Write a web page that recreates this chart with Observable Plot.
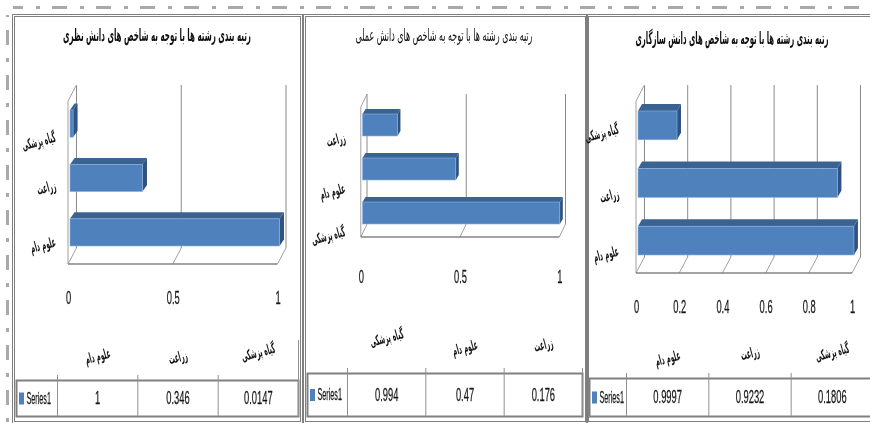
<!DOCTYPE html>
<html lang="fa">
<head>
<meta charset="utf-8">
<script src="https://cdn.jsdelivr.net/npm/d3@7"></script>
<script src="https://cdn.jsdelivr.net/npm/@observablehq/plot@0.6"></script>
<style>
html,body{margin:0;padding:0;background:#fff;width:870px;height:423px;overflow:hidden}
#page{position:relative;width:870px;height:423px;overflow:hidden;filter:blur(.4px)}
.strip{position:absolute}
.panel{position:absolute;top:14px;height:404px;border:3px double #7f7f7f;box-sizing:content-box}
.layer{position:absolute;top:0}
.layer svg{display:block;background:transparent;overflow:visible;max-width:none}
.title{position:absolute;white-space:nowrap;font-family:"DejaVu Sans";color:#111;direction:rtl}
</style>
</head>
<body>
<div id="page"></div>
<script>
// ---------- data ----------
const theoryTitle = "رتبه بندی رشته ها با توجه به شاخص های دانش نظری";
const theoryCategories = ["علوم دام", "زراعت", "گیاه پزشکی"];
const theoryValues = [1, 0.346, 0.0147];
const theoryLabels = ["1", "0.346", "0.0147"];
const theoryTicks = [0, 0.5, 1];

const practiceTitle = "رتبه بندی رشته ها با توجه به شاخص های دانش عملی";
const practiceCategories = ["گیاه پزشکی", "علوم دام", "زراعت"];
const practiceValues = [0.994, 0.47, 0.176];
const practiceLabels = ["0.994", "0.47", "0.176"];
const practiceTicks = [0, 0.5, 1];

const adaptTitle = "رتبه بندی رشته ها با توجه به شاخص های دانش سازگاری";
const adaptCategories = ["علوم دام", "زراعت", "گیاه پزشکی"];
const adaptValues = [0.9997, 0.9232, 0.1806];
const adaptLabels = ["0.9997", "0.9232", "0.1806"];
const adaptTicks = [0, 0.2, 0.4, 0.6, 0.8, 1];

const seriesName = "Series1";

// ---------- layout ----------
const FONT = '"Liberation Sans"';
const ARABIC = '"DejaVu Sans"';
const INK = "#161616";
const FRONT = "#4f81bd", TOP = "#3b6392", SIDE = "#2f5380", EDGE = "#8db3e2";
const GRID = "#8a8a8a", WALL = "#a0a0a0", FLOOR = "#858585";
const TILT = -15, SQUEEZE = 0.52, SQUEEZE_AR = 0.42, SQUEEZE_LEGEND = 0.45;

const panels = [
  {title: theoryTitle, cats: theoryCategories, vals: theoryValues, labels: theoryLabels, ticks: theoryTicks,
   box: [12, 300], titleAt: [157, 35], titleW: 188, titleWeight: 700,
   x: [70, 279.5], y: [110, 246], wallTop: 85, wallBackY: 248, floorY: 264,
   front: -2, back: 6.5, depth: [4.5, 6.5], catPad: 15, catDy: [9, 7, 13], headDy: [-42, -41, -46], tickDy: 36,
   cols: [57, 298], rowBox: [16, 298], row: [380, 416], lastStub: -40},
  {title: practiceTitle, cats: practiceCategories, vals: practiceValues, labels: practiceLabels, ticks: practiceTicks,
   box: [303, 585], titleAt: [444, 35], titleW: 177, titleWeight: 400,
   x: [362.5, 561], y: [114, 224], wallTop: 94, wallBackY: 224, floorY: 237,
   front: -1.7, back: 4.5, depth: [3, 5], catPad: 18, catDy: [18, 19, 12], headDy: [-57, -47, -50], tickDy: 42,
   cols: [347, 582], rowBox: [307, 582], row: [373, 416], lastStub: -5},
  {title: adaptTitle, cats: adaptCategories, vals: adaptValues, labels: adaptLabels, ticks: adaptTicks,
   box: [586, 874], titleAt: [732, 38], titleW: 193, titleWeight: 700,
   x: [638, 854], y: [111, 255], wallTop: 85, wallBackY: 257, floorY: 273,
   front: -2, back: 6.5, depth: [4, 7], catPad: 20, catDy: [10, 10, 3], headDy: [-39, -44, -45], tickDy: 36,
   cols: [626, 873], rowBox: [589, 873], row: [378, 416], lastStub: -5}
];

const CHART_H = 320, TABLE_TOP = 320, TABLE_H = 103;

function squeeze(svg) {
  svg.querySelectorAll("text").forEach(t => {
    const k = /[\u0600-\u06ff]/.test(t.textContent) ? SQUEEZE_AR
      : t.textContent === seriesName ? SQUEEZE_LEGEND : SQUEEZE;
    t.setAttribute("transform", (t.getAttribute("transform") || "") + ` scale(${k},1)`);
  });
  return svg;
}

function wallsMark(p) {
  return (index, {x}) => {
    const g = d3.create("svg:g").attr("fill", "none");
    const depthY = p.floorY - p.wallBackY;
    const line = (x1, y1, x2, y2, stroke, w) =>
      g.append("line").attr("x1", x1).attr("y1", y1).attr("x2", x2).attr("y2", y2)
        .attr("stroke", stroke).attr("stroke-width", w);
    for (const t of p.ticks) {
      line(x(t) + p.back, p.wallTop, x(t) + p.back, p.wallBackY, GRID, 1);
      line(x(t) + p.front, p.floorY, x(t) + p.back, p.wallBackY, WALL, 1);
    }
    const x0 = x(0);
    line(x0 + p.back, p.wallTop, x0 + p.front, p.wallTop + depthY, WALL, 1);
    line(x0 + p.front, p.wallTop + depthY, x0 + p.front, p.floorY, WALL, 1);
    line(x0 + p.front, p.floorY, x(1) + p.front, p.floorY, FLOOR, 1.6);
    return g.node();
  };
}

function facesMark(p, rows) {
  return (index, {x, y}) => {
    const g = d3.create("svg:g");
    const h = y.bandwidth();
    const [dx, dy] = p.depth;
    for (const r of rows) {
      const x0 = x(0), x1 = x(r.value), y0 = y(r.cat), y1 = y0 + h;
      g.append("polygon").attr("fill", TOP)
        .attr("points", [[x0, y0], [x0 + dx, y0 - dy], [x1 + dx, y0 - dy], [x1, y0]].join(" "));
      g.append("polygon").attr("fill", SIDE)
        .attr("points", [[x1, y0], [x1 + dx, y0 - dy], [x1 + dx, y1 - dy], [x1, y1]].join(" "));
    }
    return g.node();
  };
}

const page = document.getElementById("page");

const addDiv = (css, cls) => {
  const d = document.createElement("div");
  d.className = cls;
  d.style.cssText = css;
  page.appendChild(d);
  return d;
};

// decorative dash-dot page border
addDiv(`left:13px;top:6px;width:857px;height:3px;background-image:linear-gradient(90deg,#a9a9a9 0 15px,transparent 15px 28px,#a9a9a9 28px 32px,transparent 32px 44px);background-size:44px 3px;background-position:-5px 0;background-repeat:repeat-x`, "strip");
addDiv(`left:6px;top:15px;width:3px;height:408px;background-image:linear-gradient(180deg,#a9a9a9 0 15px,transparent 15px 28px,#a9a9a9 28px 32px,transparent 32px 45px);background-size:3px 45px;background-position:0 15px;background-repeat:repeat-y`, "strip");

const textHalo = {stroke: INK, strokeWidth: 0.25};

for (const p of panels) {
  const [L, R] = p.box;
  addDiv(`left:${L}px;width:${R - L - 3}px`, "panel");

  const rows = p.cats.map((cat, i) => ({cat, value: p.vals[i], label: p.labels[i], catDy: p.catDy[i], headDy: p.headDy[i]}));
  const domain = [...p.cats].reverse();
  const W = R - L;

  // chart: each label gets its own small vertical offset, as in the reference
  const chart = Plot.plot({
    width: W, height: CHART_H,
    marginLeft: p.x[0] - L, marginRight: R - p.x[1],
    marginTop: p.wallTop, marginBottom: CHART_H - p.floorY,
    style: {background: "transparent", overflow: "visible", maxWidth: "none"},
    x: {domain: [0, 1], range: [p.x[0] - L, p.x[1] - L]},
    y: {type: "band", domain, range: p.y, paddingInner: 0.5, paddingOuter: 0, round: false, axis: null},
    marks: [
      wallsMark(p),
      facesMark(p, rows),
      Plot.barX(rows, {x: "value", y: "cat", fill: FRONT, stroke: EDGE, strokeWidth: 0.6}),
      Plot.axisX(p.ticks, {
        anchor: "bottom", tickSize: 0, tickPadding: p.tickDy - 9, dx: p.front,
        tickFormat: d => String(d), fontSize: 18, fontFamily: FONT, fill: INK, label: null, lineAnchor: "top",
        textStroke: INK, textStrokeWidth: 0.25
      }),
      ...rows.map(r => Plot.text([r.cat], {
        y: d => d, text: d => d, frameAnchor: "left", dx: -p.catPad, dy: r.catDy,
        rotate: TILT, textAnchor: "end", fontSize: 14, fontWeight: 700, fontFamily: ARABIC, fill: INK
      }))
    ]
  });
  const chartWrap = addDiv(`left:${L}px;top:0;width:${W}px`, "layer");
  chartWrap.appendChild(squeeze(chart));

  // data table
  const rowTop = p.row[0] - TABLE_TOP, rowBottom = p.row[1] - TABLE_TOP;
  const colW = (p.cols[1] - p.cols[0]) / 3;
  const table = Plot.plot({
    width: W, height: TABLE_H,
    marginLeft: p.rowBox[0] - L, marginRight: R - p.rowBox[1],
    marginTop: rowTop, marginBottom: TABLE_H - rowBottom,
    style: {background: "transparent", overflow: "visible", maxWidth: "none"},
    x: {type: "band", domain: p.cats, range: [p.cols[0] - L, p.cols[1] - L], padding: 0, round: false, axis: null},
    marks: [
      Plot.frame({stroke: "#808080", strokeWidth: 2}),
      Plot.ruleX(p.cats, {x: d => d, dx: -colW / 2, stroke: "#8f8f8f", insetTop: -5}),
      Plot.ruleX(p.cats.slice(-1), {x: d => d, dx: colW / 2, stroke: "#8f8f8f", insetTop: p.lastStub}),
      Plot.text(rows, {x: "cat", text: "label", frameAnchor: "middle", fontSize: 18, fontFamily: FONT, fill: INK, ...textHalo}),
      ...rows.map(r => Plot.text([r.cat], {
        x: d => d, text: d => d, frameAnchor: "middle", dy: r.headDy, rotate: TILT,
        fontSize: 14, fontWeight: 700, fontFamily: ARABIC, fill: INK
      })),
      Plot.dot([seriesName], {
        frameAnchor: "left", dx: 5, fill: FRONT, stroke: "none",
        symbol: {draw(c) { c.rect(-2.5, -6, 5, 12); }}
      }),
      Plot.text([seriesName], {
        frameAnchor: "left", dx: 10, text: d => d, textAnchor: "start",
        fontSize: 16, fontFamily: FONT, fill: INK, ...textHalo
      })
    ]
  });
  const tableWrap = addDiv(`left:${L}px;top:${TABLE_TOP}px;width:${W}px`, "layer");
  tableWrap.appendChild(squeeze(table));

  // title, fitted to the width it has in the reference
  const t = addDiv(`left:${p.titleAt[0]}px;top:${p.titleAt[1]}px;font-size:17px;font-weight:${p.titleWeight}`, "title");
  t.textContent = p.title;
  const k = p.titleW / t.offsetWidth;
  t.style.transform = `translate(-50%,-50%) scaleX(${k})`;
}
</script>
</body>
</html>
